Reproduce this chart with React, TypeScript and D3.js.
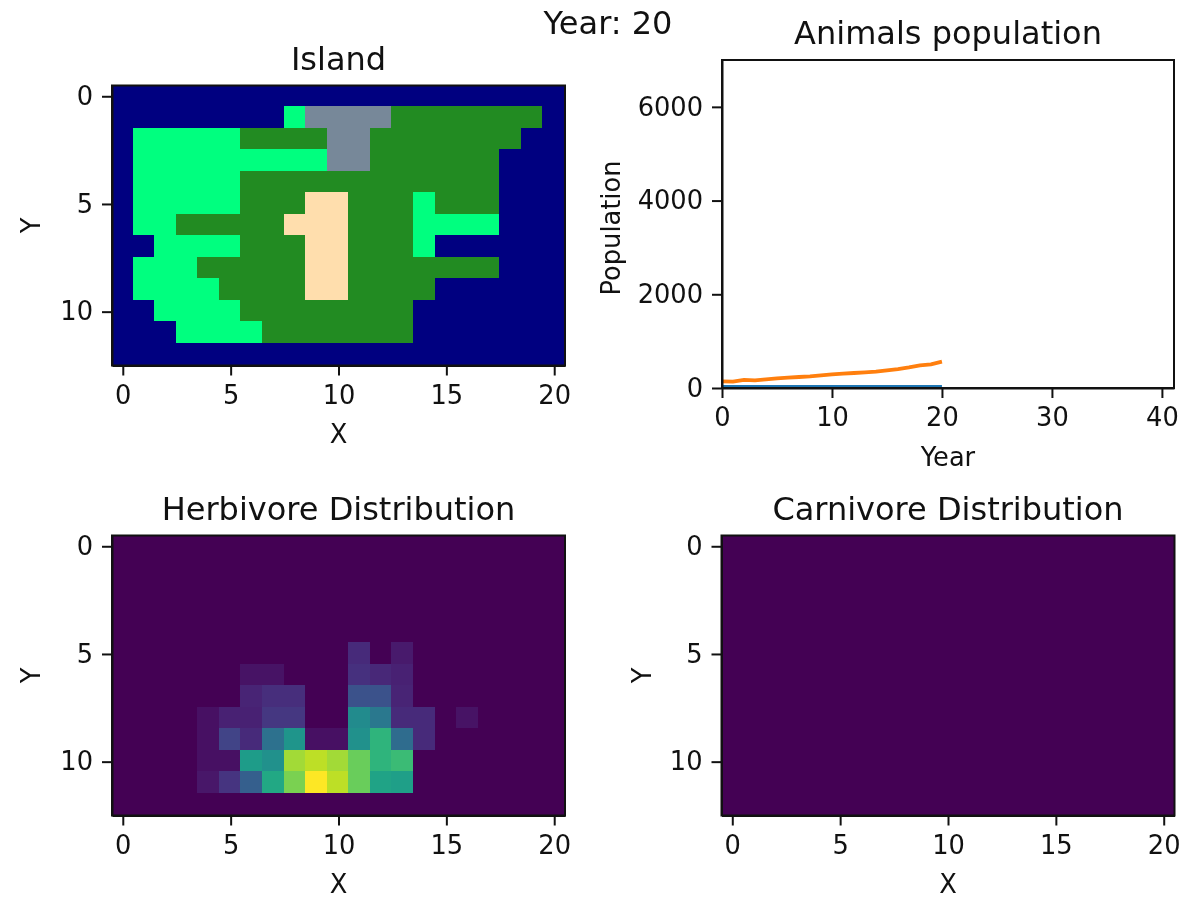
import { useEffect, useRef } from 'react';
import * as d3 from 'd3';

// W water, H highland, L lowland, M mountain, D desert
const islandRows = [
    'WWWWWWWWWWWWWWWWWWWWW',
    'WWWWWWWWLMMMMHHHHHHHW',
    'WLLLLLHHHHMMHHHHHHHWW',
    'WLLLLLLLLLMMHHHHHHWWW',
    'WLLLLLHHHHHHHHHHHHWWW',
    'WLLLLLHHHDDHHHLHHHWWW',
    'WLLHHHHHDDDHHHLLLLWWW',
    'WWLLLLHHHDDHHHLWWWWWW',
    'WLLLHHHHHDDHHHHHHHWWW',
    'WLLLLHHHHDDHHHHWWWWWW',
    'WWLLLLHHHHHHHHWWWWWWW',
    'WWWLLLLHHHHHHHWWWWWWW',
    'WWWWWWWWWWWWWWWWWWWWW',
];
const islandColors: Record<string, string> = {
    W: '#000080',
    H: '#228B22',
    L: '#00FF7F',
    M: '#778899',
    D: '#FFDEAD',
};

// animals per cell at year 20, as percent of the busiest cell
const herbivoreGrid = [
    [0, 0, 0, 0, 0, 0, 0, 0, 0, 0, 0, 0, 0, 0, 0, 0, 0, 0, 0, 0, 0],
    [0, 0, 0, 0, 0, 0, 0, 0, 0, 0, 0, 0, 0, 0, 0, 0, 0, 0, 0, 0, 0],
    [0, 0, 0, 0, 0, 0, 0, 0, 0, 0, 0, 0, 0, 0, 0, 0, 0, 0, 0, 0, 0],
    [0, 0, 0, 0, 0, 0, 0, 0, 0, 0, 0, 0, 0, 0, 0, 0, 0, 0, 0, 0, 0],
    [0, 0, 0, 0, 0, 0, 0, 0, 0, 0, 0, 0, 0, 0, 0, 0, 0, 0, 0, 0, 0],
    [0, 0, 0, 0, 0, 0, 0, 0, 0, 0, 0, 12, 0, 7, 0, 0, 0, 0, 0, 0, 0],
    [0, 0, 0, 0, 0, 0, 5, 5, 0, 0, 0, 14, 11, 9, 0, 0, 0, 0, 0, 0, 0],
    [0, 0, 0, 0, 0, 0, 10, 13, 13, 0, 0, 25, 25, 10, 0, 0, 0, 0, 0, 0, 0],
    [0, 0, 0, 0, 4, 9, 9, 16, 16, 0, 0, 48, 40, 12, 12, 0, 5, 0, 0, 0, 0],
    [0, 0, 0, 0, 4, 20, 12, 37, 52, 4, 4, 50, 65, 35, 12, 0, 0, 0, 0, 0, 0],
    [0, 0, 0, 0, 4, 4, 55, 50, 86, 90, 86, 77, 65, 68, 0, 0, 0, 0, 0, 0, 0],
    [0, 0, 0, 0, 6, 15, 30, 60, 80, 100, 90, 77, 58, 56, 0, 0, 0, 0, 0, 0, 0],
    [0, 0, 0, 0, 0, 0, 0, 0, 0, 0, 0, 0, 0, 0, 0, 0, 0, 0, 0, 0, 0],
];
const gridMax = 100;

const years = [0, 1, 2, 3, 4, 5, 6, 7, 8, 9, 10, 11, 12, 13, 14, 15, 16, 17, 18, 19, 20];
const herbivorePopulation = [142, 135, 175, 164, 185, 206, 220, 235, 249, 270, 290, 306, 320, 334, 348, 377, 405, 440, 483, 505, 562];
const carnivorePopulation = [25, 25, 25, 25, 25, 25, 25, 25, 25, 25, 25, 25, 25, 25, 25, 25, 25, 25, 25, 25, 25];

const gridXTicks = [0, 5, 10, 15, 20];
const gridYTicks = [0, 5, 10];
const yearTicks = [0, 10, 20, 30, 40];
const populationTicks = [0, 2000, 4000, 6000];

const FONT = '"DejaVu Sans", sans-serif';
const TICK_SIZE = 25.7;
const TITLE_SIZE = 32;
const AXIS_COLOR = '#111';
const plotW = 453;
const plotH = 280;

const App = () => {
    const svgRef = useRef<SVGSVGElement>(null);

    useEffect(() => {
        if (!svgRef.current) return;
        const svg = d3.select(svgRef.current);
        svg.selectAll('*').remove();

        const styleAxis = (g: any) => {
            g.selectAll('path').attr('stroke', AXIS_COLOR).attr('stroke-width', 2);
            g.selectAll('line').attr('stroke', AXIS_COLOR).attr('stroke-width', 2);
            g.selectAll('text').attr('fill', AXIS_COLOR).style('font-family', FONT).style('font-size', TICK_SIZE + 'px');
        };

        // Shared frame: axes, spines and labels
        const frame = (g: any, x: any, y: any, xTicks: number[], yTicks: number[], title: string, xLabel: string, yLabel: string, yLabelX: number) => {
            g.append('g')
                .attr('transform', `translate(0,${plotH})`)
                .call(d3.axisBottom(x).tickValues(xTicks).tickFormat(d3.format('d')).tickSize(10).tickPadding(10).tickSizeOuter(0))
                .call(styleAxis);
            g.append('g')
                .call(d3.axisLeft(y).tickValues(yTicks).tickFormat(d3.format('d')).tickSize(10).tickPadding(9).tickSizeOuter(0))
                .call(styleAxis);
            g.append('rect')
                .attr('width', plotW).attr('height', plotH)
                .attr('fill', 'none').attr('stroke', AXIS_COLOR).attr('stroke-width', 2);
            g.append('text')
                .attr('x', plotW / 2).attr('y', -16)
                .attr('text-anchor', 'middle')
                .attr('fill', AXIS_COLOR)
                .style('font-family', FONT).style('font-size', TITLE_SIZE + 'px')
                .text(title);
            g.append('text')
                .attr('x', plotW / 2).attr('y', plotH + 77)
                .attr('text-anchor', 'middle')
                .attr('fill', AXIS_COLOR)
                .style('font-family', FONT).style('font-size', TICK_SIZE + 'px')
                .text(xLabel);
            g.append('text')
                .attr('transform', `translate(${yLabelX},${plotH / 2}) rotate(-90)`)
                .attr('text-anchor', 'middle')
                .attr('fill', AXIS_COLOR)
                .style('font-family', FONT).style('font-size', TICK_SIZE + 'px')
                .text(yLabel);
        };

        const gridX = d3.scaleLinear().domain([-0.5, 20.5]).range([0, plotW]);
        const gridY = d3.scaleLinear().domain([12.5, -0.5]).range([plotH, 0]);

        // raster sits about a pixel up and left of the axes in the reference
        const cells = (g: any, color: (r: number, c: number) => string) => {
            const raster = g.append('g').attr('transform', 'translate(-1,-1)');
            d3.range(13).forEach(r => {
                d3.range(21).forEach(c => {
                    raster.append('rect')
                        .attr('x', gridX(c - 0.5))
                        .attr('y', gridY(r - 0.5))
                        .attr('width', gridX(c + 0.5) - gridX(c - 0.5))
                        .attr('height', gridY(r + 0.5) - gridY(r - 0.5))
                        .attr('fill', color(r, c))
                        .attr('shape-rendering', 'crispEdges');
                });
            });
        };

        const viridis = d3.scaleSequential(d3.interpolateViridis).domain([0, gridMax]);

        // Island map
        const island = svg.append('g').attr('transform', 'translate(112,85.5)');
        cells(island, (r, c) => islandColors[islandRows[r][c]]);
        frame(island, gridX, gridY, gridXTicks, gridYTicks, 'Island', 'X', 'Y', -72);

        // Population lines
        const pop = svg.append('g').attr('transform', 'translate(722,60)');
        const yearX = d3.scaleLinear().domain([0, 41.1]).range([0, 452]);
        const popY = d3.scaleLinear().domain([0, 7000]).range([328, 0]);
        svg.append('defs').append('clipPath').attr('id', 'pop-clip')
            .append('rect').attr('width', 452).attr('height', 328);
        const line = d3.line<number>().x((_, i) => yearX(years[i])).y(d => popY(d));
        [carnivorePopulation, herbivorePopulation].forEach((values, i) => {
            pop.append('path')
                .datum(values)
                .attr('clip-path', 'url(#pop-clip)')
                .attr('fill', 'none')
                .attr('stroke', i === 0 ? '#1f77b4' : '#ff7f0e')
                .attr('stroke-width', 3.8)
                .attr('d', line);
        });
        pop.append('g')
            .attr('transform', 'translate(0,328)')
            .call(d3.axisBottom(yearX).tickValues(yearTicks).tickFormat(d3.format('d')).tickSize(10).tickPadding(10).tickSizeOuter(0))
            .call(styleAxis);
        pop.append('g')
            .call(d3.axisLeft(popY).tickValues(populationTicks).tickFormat(d3.format('d')).tickSize(10).tickPadding(9).tickSizeOuter(0))
            .call(styleAxis);
        pop.append('rect').attr('width', 452).attr('height', 328)
            .attr('fill', 'none').attr('stroke', AXIS_COLOR).attr('stroke-width', 2);
        pop.append('text').attr('x', 226).attr('y', -16).attr('text-anchor', 'middle')
            .attr('fill', AXIS_COLOR).style('font-family', FONT).style('font-size', TITLE_SIZE + 'px')
            .text('Animals population');
        pop.append('text').attr('x', 226).attr('y', 406).attr('text-anchor', 'middle')
            .attr('fill', AXIS_COLOR).style('font-family', FONT).style('font-size', TICK_SIZE + 'px')
            .text('Year');
        pop.append('text').attr('transform', 'translate(-102,168) rotate(-90)').attr('text-anchor', 'middle')
            .attr('fill', AXIS_COLOR).style('font-family', FONT).style('font-size', TICK_SIZE + 'px')
            .text('Population');

        // Distribution heatmaps
        const herb = svg.append('g').attr('transform', 'translate(112,535.5)');
        cells(herb, (r, c) => viridis(herbivoreGrid[r][c]));
        frame(herb, gridX, gridY, gridXTicks, gridYTicks, 'Herbivore Distribution', 'X', 'Y', -72);

        const carn = svg.append('g').attr('transform', 'translate(721.5,535.5)');
        cells(carn, () => viridis(0));
        frame(carn, gridX, gridY, gridXTicks, gridYTicks, 'Carnivore Distribution', 'X', 'Y', -71);

        svg.append('text')
            .attr('x', 608).attr('y', 34)
            .attr('text-anchor', 'middle')
            .attr('fill', AXIS_COLOR)
            .style('font-family', FONT).style('font-size', TITLE_SIZE + 'px')
            .text('Year: 20');
    }, []);

    // the reference is an upscaled raster, so soften slightly
    return <svg ref={svgRef} width={1184} height={898} style={{ position: 'absolute', left: 0, top: 0, background: '#fff', filter: 'blur(0.5px)' }} />;
};

export default App;
